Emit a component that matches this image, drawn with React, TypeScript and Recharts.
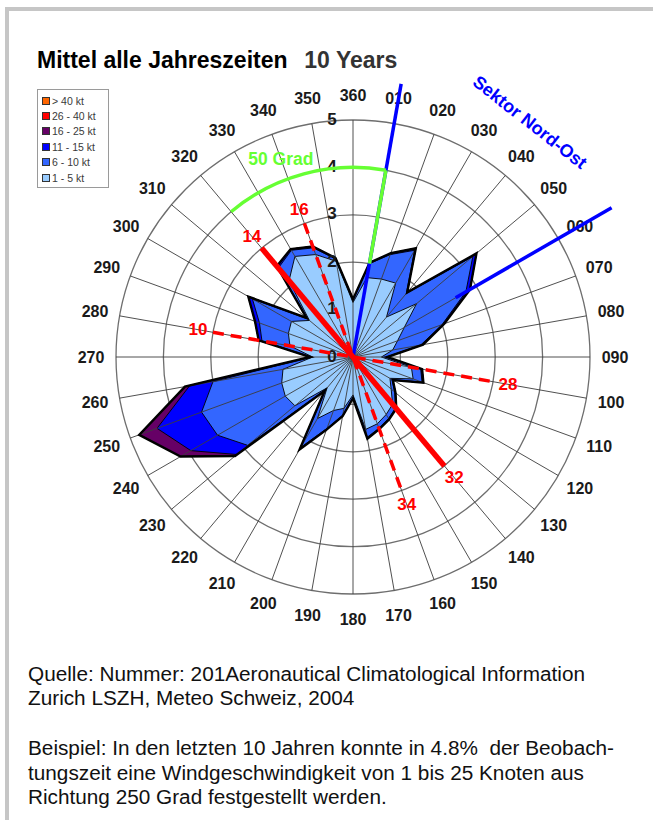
import React from "react";
import { PolarAngleAxis, PolarGrid, PolarRadiusAxis, Radar, RadarChart } from "recharts";

// Windrichtungen (Grad), im Uhrzeigersinn ab Nord
const directions = [
  "360", "010", "020", "030", "040", "050", "060", "070", "080", "090", "100", "110",
  "120", "130", "140", "150", "160", "170", "180", "190", "200", "210", "220", "230",
  "240", "250", "260", "270", "280", "290", "300", "310", "320", "330", "340", "350"
];

// Häufigkeit in % pro Richtung und Geschwindigkeitsklasse
const kt1to5 = [
  1.15, 1.7, 1.75, 1.8, 1.1, 1.75, 1.25, 1.0, 0.85, 0.6, 1.25, 1.35,
  0.9, 1.05, 1.3, 1.4, 1.5, 1.55, 0.8, 1.1, 1.2, 1.5, 0.85, 1.6,
  1.65, 1.6, 1.5, 0.85, 1.35, 1.45, 1.5, 1.2, 2.1, 2.45, 2.3, 2.05
];
const kt6to10 = [
  0.05, 0.3, 0.55, 0.8, 0.65, 1.55, 1.5, 1.0, 0.6, 0.1, 0.2, 0.2,
  0.05, 0.1, 0.1, 0.1, 0.1, 0.17, 0.05, 0.15, 0.4, 0.7, 0.05, 1.3,
  1.65, 1.8, 1.5, 0.02, 0.6, 0.65, 0.95, 0.05, 0.35, 0.15, 0.15, 0.05
];
const kt11to15 = [
  0.02, 0.02, 0.03, 0.05, 0.03, 0.1, 0.1, 0.05, 0.05, 0.02, 0.03, 0.03,
  0.02, 0.02, 0.02, 0.02, 0.02, 0.03, 0.02, 0.02, 0.03, 0.05, 0.03, 0.3,
  0.65, 1.0, 0.5, 0.03, 0.07, 0.1, 0.1, 0.03, 0.05, 0.03, 0.03, 0.02
];
const kt16to25 = [
  0, 0, 0, 0, 0, 0, 0, 0, 0, 0, 0, 0,
  0, 0, 0, 0, 0, 0, 0, 0, 0, 0, 0, 0.05,
  0.25, 0.4, 0.1, 0, 0, 0, 0, 0, 0, 0, 0, 0
];
const kt26to40 = [
  0, 0, 0, 0, 0, 0, 0, 0, 0, 0, 0, 0,
  0, 0, 0, 0, 0, 0, 0, 0, 0, 0, 0, 0,
  0, 0, 0, 0, 0, 0, 0, 0, 0, 0, 0, 0
];
const ktOver40 = [
  0, 0, 0, 0, 0, 0, 0, 0, 0, 0, 0, 0,
  0, 0, 0, 0, 0, 0, 0, 0, 0, 0, 0, 0,
  0, 0, 0, 0, 0, 0, 0, 0, 0, 0, 0, 0
];

const speedLabels = ["1 - 5 kt", "6 - 10 kt", "11 - 15 kt", "16 - 25 kt", "26 - 40 kt", "> 40 kt"];
const speedColors = ["#99CCFF", "#3366FF", "#0000FF", "#660066", "#FF0000", "#FF6600"];

// Pisten (Richtung der beiden Enden) und Sektoren
const runwayNames = [["10", "28"], ["14", "32"], ["16", "34"]];
const runwayHeadings = [[280, 100], [320, 140], [340, 160]];
const sectorLimits = [320, 10, 60];

const FONT = '"Liberation Sans", Arial, Helvetica, sans-serif';
const CX = 353;
const CY = 357;
const R = 237;
const MAX = 5;

const classes = [kt1to5, kt6to10, kt11to15, kt16to25, kt26to40, ktOver40];
const rows = directions.map((dir, i) => {
  const row: Record<string, number | string> = { dir };
  let sum = 0;
  classes.forEach((c, k) => {
    sum += c[i];
    row["s" + k] = Math.round(sum * 1000) / 1000;
  });
  return row;
});

// gleiche Umrechnung wie die Radialskala des Diagramms
const polar = (deg: number, value: number) => {
  const r = (value / MAX) * R;
  const a = (deg * Math.PI) / 180;
  return { x: CX + r * Math.sin(a), y: CY - r * Math.cos(a) };
};

const AngleTick = (props: any) => (
  <text
    x={props.x}
    y={props.y}
    textAnchor="middle"
    dominantBaseline="central"
    fontFamily={FONT}
    fontSize={16}
    fontWeight="bold"
    fill="#1a1a1a"
  >
    {props.payload.value}
  </text>
);

const RadiusTick = (props: any) => (
  <text
    x={props.x - 21}
    y={props.y - 1}
    textAnchor="middle"
    dominantBaseline="central"
    fontFamily={FONT}
    fontSize={17}
    fontWeight="bold"
    fill="#1a1a1a"
  >
    {props.payload.value}
  </text>
);

function WindLegend() {
  const order = [5, 4, 3, 2, 1, 0];
  return (
    <div
      style={{
        position: "absolute",
        left: 37,
        top: 89,
        width: 72,
        height: 99,
        border: "1px solid #9a9a9a",
        background: "#fff",
        boxSizing: "border-box",
        paddingTop: 3
      }}
    >
      {order.map((k) => (
        <div key={k} style={{ display: "flex", alignItems: "center", height: 15.4, paddingLeft: 4 }}>
          <span
            style={{
              width: 6,
              height: 6,
              background: speedColors[k],
              border: "1px solid #333",
              marginRight: 2,
              display: "inline-block"
            }}
          />
          <span style={{ fontSize: 10.5, color: "#3a3a3a", fontFamily: FONT }}>{speedLabels[k]}</span>
        </div>
      ))}
    </div>
  );
}

function Annotations() {
  const [sFrom, sMid, sTo] = sectorLimits;
  const blue0 = polar(sMid, 0);
  const blue1 = polar(sMid, 5.85);
  const green0 = polar(sMid, 2);
  const green1 = polar(sMid, 4);
  const arcStart = polar(sFrom, 4);
  const blue2a = polar(sTo, 2.5);
  const blue2b = polar(sTo, 6.3);
  const sek = polar(37, 6.2);
  const grad = polar(340, 4.45);
  return (
    <svg
      width={653}
      height={820}
      style={{ position: "absolute", left: 0, top: 0, pointerEvents: "none" }}
    >
      <line x1={blue0.x} y1={blue0.y} x2={blue1.x} y2={blue1.y} stroke="#0000FF" strokeWidth={3.5} />
      <line x1={blue2a.x} y1={blue2a.y} x2={blue2b.x} y2={blue2b.y} stroke="#0000FF" strokeWidth={3.5} />
      <path
        d={`M ${arcStart.x} ${arcStart.y} A ${(4 / MAX) * R} ${(4 / MAX) * R} 0 0 1 ${green1.x} ${green1.y}`}
        fill="none"
        stroke="#66FF33"
        strokeWidth={3.5}
      />
      <line x1={green0.x} y1={green0.y} x2={green1.x} y2={green1.y} stroke="#66FF33" strokeWidth={3.5} />
      {runwayHeadings.map(([h1, h2], i) => {
        const a = polar(h1, 3);
        const b = polar(h2, 3);
        const solid = i === 1;
        return (
          <line
            key={i}
            x1={a.x}
            y1={a.y}
            x2={b.x}
            y2={b.y}
            stroke="#FF0000"
            strokeWidth={solid ? 5.5 : 3.5}
            strokeDasharray={solid ? undefined : "11 7"}
          />
        );
      })}
      {runwayHeadings.map((hs, i) =>
        hs.map((h, j) => {
          const p = polar(h, 3.32);
          return (
            <text
              key={`${i}-${j}`}
              x={p.x}
              y={p.y}
              textAnchor="middle"
              dominantBaseline="central"
              fontFamily={FONT}
              fontSize={17}
              fontWeight="bold"
              fill="#FF0000"
            >
              {runwayNames[i][j]}
            </text>
          );
        })
      )}
      <text
        x={grad.x}
        y={grad.y}
        textAnchor="middle"
        dominantBaseline="central"
        fontFamily={FONT}
        fontSize={17.5}
        fontWeight="bold"
        fill="#66FF33"
      >
        50 Grad
      </text>
      <text
        x={sek.x}
        y={sek.y}
        textAnchor="middle"
        dominantBaseline="central"
        fontFamily={FONT}
        fontSize={18}
        fontWeight="bold"
        fill="#0000FF"
        transform={`rotate(38 ${sek.x} ${sek.y})`}
      >
        Sektor Nord-Ost
      </text>
    </svg>
  );
}

export default function App() {
  const layers = [5, 4, 3, 2, 1, 0];
  return (
    <div
      style={{
        position: "relative",
        width: 653,
        height: 820,
        background: "#fff",
        fontFamily: FONT,
        overflow: "hidden"
      }}
    >
      <style>{"body{margin:0}"}</style>
      <div
        style={{
          position: "absolute",
          left: 5,
          top: 7,
          right: 0,
          bottom: 0,
          borderTop: "4px solid #c6c6c6",
          borderLeft: "4px solid #c6c6c6"
        }}
      />
      <div
        style={{
          position: "absolute",
          left: 37,
          top: 47,
          fontSize: 23,
          fontWeight: "bold",
          color: "#000",
          whiteSpace: "pre"
        }}
      >
        Mittel alle Jahreszeiten <span style={{ color: "#333", marginLeft: 4 }}> 10 Years</span>
      </div>
      <WindLegend />
      <div style={{ position: "absolute", left: 0, top: 0 }}>
        <RadarChart
          width={653}
          height={680}
          data={rows}
          cx={CX}
          cy={CY}
          outerRadius={R}
          margin={{ top: 0, right: 0, bottom: 0, left: 0 }}
        >
          <PolarGrid gridType="circle" radialLines={false} stroke="#6e6e6e" strokeWidth={1.3} />
          <PolarAngleAxis dataKey="dir" tick={AngleTick} tickLine={false} axisLine={false} tickSize={25} />
          {layers.map((k) => (
            <Radar
              key={k}
              name={speedLabels[k]}
              dataKey={"s" + k}
              fill={speedColors[k]}
              fillOpacity={1}
              stroke="#000"
              strokeWidth={0.9}
              dot={false}
              isAnimationActive={false}
            />
          ))}
          <PolarGrid gridType="circle" polarRadius={[0]} stroke="#3c3c3c" strokeWidth={0.9} zIndex={150} />
          <Radar
            name="outline"
            dataKey="s5"
            fill="none"
            fillOpacity={0}
            stroke="#000"
            strokeWidth={2.4}
            dot={false}
            legendType="none"
            isAnimationActive={false}
            zIndex={160}
          />
          <PolarRadiusAxis
            angle={90}
            domain={[0, MAX]}
            tickCount={6}
            axisLine={false}
            tick={RadiusTick}
            zIndex={600}
          />
        </RadarChart>
      </div>
      <Annotations />
      <div
        style={{
          position: "absolute",
          left: 28,
          top: 662,
          fontSize: 20.75,
          lineHeight: "24px",
          color: "#111"
        }}
      >
        <div>Quelle: Nummer: 201Aeronautical Climatological Information</div>
        <div>Zurich LSZH, Meteo Schweiz, 2004</div>
      </div>
      <div
        style={{
          position: "absolute",
          left: 28,
          top: 736,
          fontSize: 20.75,
          lineHeight: "24.5px",
          color: "#111",
          whiteSpace: "pre"
        }}
      >
        <div>Beispiel: In den letzten 10 Jahren konnte in 4.8%  der Beobach-</div>
        <div>tungszeit eine Windgeschwindigkeit von 1 bis 25 Knoten aus</div>
        <div>Richtung 250 Grad festgestellt werden.</div>
      </div>
    </div>
  );
}
